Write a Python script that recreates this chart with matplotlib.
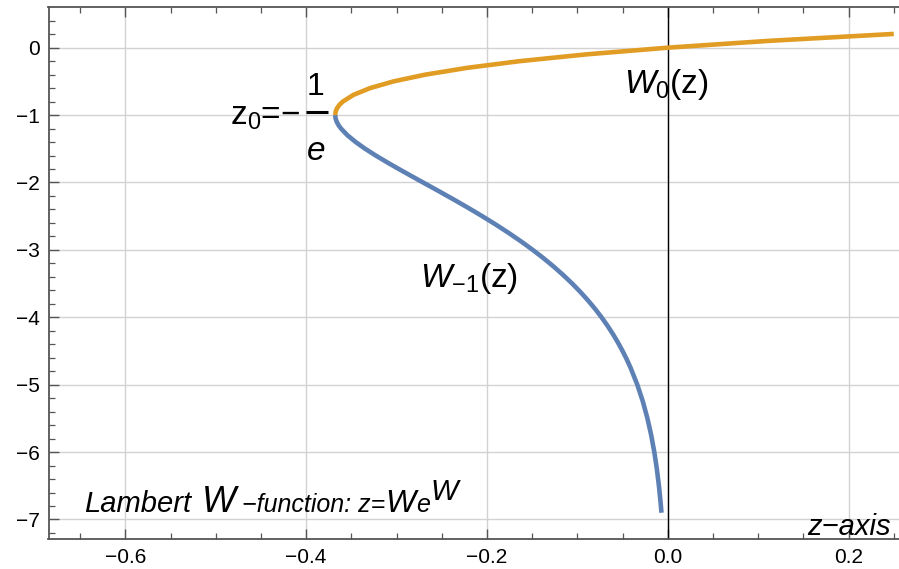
import numpy as np
import matplotlib
matplotlib.use('Agg')
import matplotlib.pyplot as plt
from matplotlib.ticker import MultipleLocator

plt.rcParams['font.family'] = ['Liberation Sans', 'DejaVu Sans']
plt.rcParams['mathtext.fontset'] = 'custom'
plt.rcParams['mathtext.rm'] = 'Liberation Sans'
plt.rcParams['mathtext.it'] = 'Liberation Sans:italic'

# principal branch W0 (orange)
w0_z = [-0.36788, -0.36740, -0.36591, -0.36330, -0.35946, -0.34761, -0.32929,
        -0.30327, -0.26813, -0.22225, -0.16375, -0.09048, 0.0, 0.11052, 0.25002]
w0_w = [-1.0, -0.95, -0.9, -0.85, -0.8, -0.7, -0.6,
        -0.5, -0.4, -0.3, -0.2, -0.1, 0.0, 0.1, 0.2039]

# lower branch W-1 (blue)
wm1_z = [-0.36788, -0.36744, -0.36616, -0.36413, -0.36143, -0.35429, -0.34524,
         -0.33470, -0.32304, -0.31056, -0.29754, -0.28418, -0.27067, -0.25379,
         -0.23715, -0.22090, -0.20521, -0.19015, -0.17580, -0.16220, -0.14936,
         -0.13731, -0.12601, -0.11549, -0.10569, -0.09661, -0.08820, -0.08041,
         -0.07326, -0.06666, -0.06061, -0.05508, -0.04999, -0.04534, -0.04110,
         -0.03369, -0.02755, -0.02248, -0.01830, -0.01487, -0.01207, -0.00977,
         -0.00790, -0.00695]
wm1_w = [-1.0, -1.05, -1.1, -1.15, -1.2, -1.3, -1.4,
         -1.5, -1.6, -1.7, -1.8, -1.9, -2.0, -2.125,
         -2.25, -2.375, -2.5, -2.625, -2.75, -2.875, -3.0,
         -3.125, -3.25, -3.375, -3.5, -3.625, -3.75, -3.875,
         -4.0, -4.125, -4.25, -4.375, -4.5, -4.625, -4.75,
         -5.0, -5.25, -5.5, -5.75, -6.0, -6.25, -6.5,
         -6.75, -6.9]

xticks = [-0.6, -0.4, -0.2, 0.0, 0.2]
xlabels = ['\u22120.6', '\u22120.4', '\u22120.2', '0.0', '0.2']
yticks = [0, -1, -2, -3, -4, -5, -6, -7]
ylabels = ['0', '\u22121', '\u22122', '\u22123', '\u22124', '\u22125', '\u22126', '\u22127']

W, H = 899, 569
fig = plt.figure(figsize=(W/100, H/100), dpi=100)
ax = fig.add_axes([48.5/W, 1-539.3/H, 1-48.5/W, (539.3-7.3)/H])

ax.set_xlim(-0.685, 0.2558)
ax.set_ylim(-7.294, 0.599)

ax.set_xticks(xticks)
ax.set_xticklabels(xlabels)
ax.set_yticks(yticks)
ax.set_yticklabels(ylabels)
ax.xaxis.set_minor_locator(MultipleLocator(0.05))
ax.yaxis.set_minor_locator(MultipleLocator(0.2))
ax.grid(True, which='major', color='#d2d2d2', lw=1)
ax.set_axisbelow(True)
ax.axvline(0, color='black', lw=1, zorder=1.5)

ax.tick_params(which='both', direction='in', top=True, right=False,
               color='#555555', labelsize=15)
ax.tick_params(which='major', length=7, width=1)
ax.tick_params(which='minor', length=4.3, width=0.9)
ax.tick_params(axis='x', pad=6)
ax.tick_params(axis='y', pad=6)
for s in ['left', 'bottom', 'top']:
    ax.spines[s].set_color('#555555')
    ax.spines[s].set_linewidth(1.3)
ax.spines['right'].set_visible(False)

blue = '#5E81B5'
orange = '#E19C24'
ax.plot(wm1_z, wm1_w, color=blue, lw=3.3, solid_capstyle='butt', zorder=3)
ax.plot(w0_z, w0_w, color=orange, lw=3.3, solid_capstyle='butt', zorder=4)

# labels
ax.text(-0.0487, -0.672, r'$W_0$(z)', fontsize=24, ha='left', va='baseline')
ax.text(-0.2746, -3.55, r'$W_{-1}$(z)', fontsize=24, ha='left', va='baseline')
ax.text(-0.4064, -1.147, r'$\mathrm{z}_0$=' + '\u2212', fontsize=24, ha='right', va='baseline')
ax.text(-0.3898, -0.702, '1', fontsize=23, ha='center', va='baseline')
ax.text(-0.389, -1.666, 'e', fontsize=24, style='italic', ha='center', va='baseline')
bar_x = [-0.3998, -0.3754]
bar_y = [-0.954, -0.954]
ax.plot(bar_x, bar_y, color='black', lw=2.2, solid_capstyle='butt')
ax.text(0.247, -7.23, 'z\u2212axis', fontsize=21, style='italic', ha='right', va='baseline')

# bottom-left caption built from pieces (text, size, raise, gap before)
renderer = fig.canvas.get_renderer()
pieces = [('Lambert', 21, 0, 0), ('W', 26, 0, 11), ('\u2212function: z=', 18, 0, 6),
          ('W', 23, 0, 0), ('e', 18, 0, 0), ('W', 21, -12, 1)]
x = 84
for s, size, dy, gap in pieces:
    x += gap
    t = fig.text(x/W, 1-(512+dy)/H, s, fontsize=size, style='italic',
                 ha='left', va='baseline')
    x += t.get_window_extent(renderer).width

fig.savefig('out.png', dpi=100)
